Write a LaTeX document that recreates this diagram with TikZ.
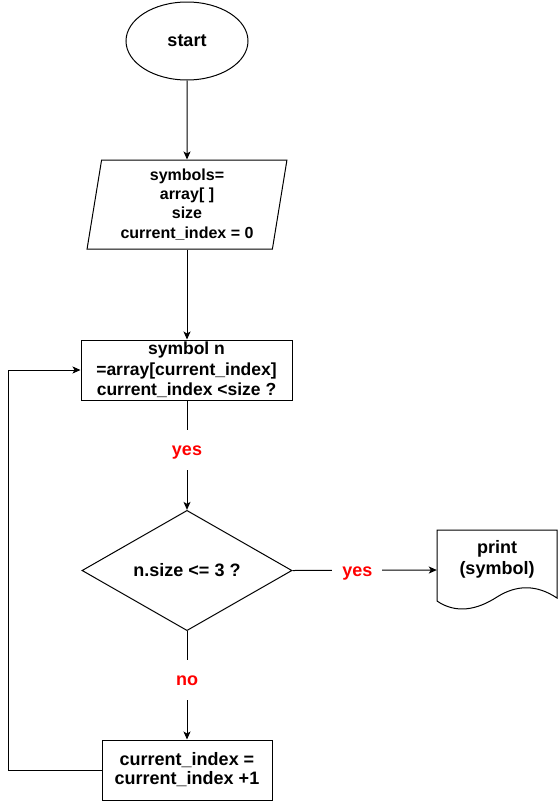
\documentclass[tikz,border=0pt]{standalone}
\usepackage{fontspec}
\setmainfont{Liberation Sans}
\usetikzlibrary{shapes.geometric,arrows.meta}
\begin{document}
\begin{tikzpicture}[x=1pt,y=-1pt,
  every node/.style={font=\bfseries, align=center, inner sep=0pt},
  shapeline/.style={draw=black, line width=1pt},
  flow/.style={draw=black, line width=1pt, -{Stealth[length=8pt,width=7pt,inset=2pt]}},
  plain/.style={draw=black, line width=1pt},
  cond/.style={fill=white, text=red, font=\fontsize{18}{22}\selectfont\bfseries,
    inner xsep=10pt, minimum height=40pt, text height=13pt, text depth=1pt},
  txt18/.style={font=\fontsize{18}{21}\selectfont\bfseries},
]
\useasboundingbox (0,0) rectangle (558,801);

% start terminal
\node[shapeline, ellipse, minimum width=122pt, minimum height=78pt, txt18]
  (start) at (187,41) {start};

% input: symbols, size, index
\node[shapeline, trapezium, trapezium left angle=81, trapezium right angle=99,
  trapezium stretches=true, minimum width=200pt, minimum height=89pt,
  font=\fontsize{16}{19.3}\selectfont\bfseries]
  (input) at (187,204.5) {symbols=\\array[ ]\\size\\current\_index = 0};

% fetch current symbol and test index
\node[shapeline, rectangle, minimum width=211pt, minimum height=60pt,
  font=\fontsize{17.5}{20.3}\selectfont\bfseries]
  (fetch) at (186.5,370) {symbol n\\=array[current\_index]\\current\_index <size ?};

% length decision
\node[shapeline, diamond, minimum width=210pt, minimum height=120pt, txt18]
  (check) at (187,570.5) {n.size <= 3 ?};

% output document
\node[minimum width=120pt, minimum height=80pt] (print) at (497,570) {};
\draw[shapeline] (437,530) -- (557,530) -- (557,598)
  .. controls (536,584) and (516,585) .. (497,597)
  .. controls (477,610) and (456,614) .. (437,601) -- cycle;
\node[txt18, anchor=center] (printtxt) at (497,559) {print\\(symbol)};

% increment index
\node[shapeline, rectangle, minimum width=170pt, minimum height=60pt,
  font=\fontsize{18}{19}\selectfont\bfseries]
  (incr) at (187,770) {current\_index =\\current\_index +1};

% connectors
\draw[flow] (start) -- (input);
\draw[flow] (input.south) -- (fetch.north -| input.south);
\draw[flow] (fetch.south -| check.north) -- (check.north)
  node[cond, pos=0.45] (yes1) {yes};
\draw[flow] (check.east) -- (print.west)
  node[cond, pos=0.45] (yes2) {yes};
\draw[flow] (check.south) -- (incr.north)
  node[cond, pos=0.45] (no1) {no};
\coordinate (loopa) at (8,770);
\coordinate (loopb) at (8,370);
\draw[flow] (incr.west) -- (loopa) -- (loopb) -- (fetch.west);
\end{tikzpicture}
\end{document}
